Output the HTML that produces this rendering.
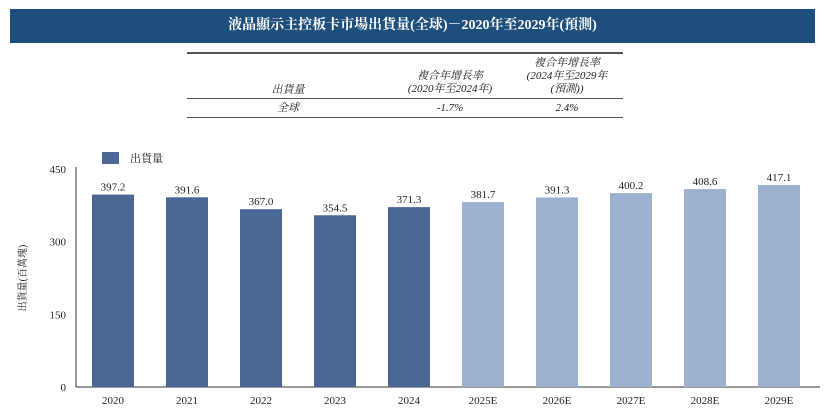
<!DOCTYPE html>
<html><head><meta charset="utf-8"><style>
body{margin:0;width:826px;height:414px;background:#fff;font-family:"Liberation Serif","Noto Serif CJK SC","Noto Sans CJK TC",serif;overflow:hidden;position:relative}
.hdr{position:absolute;left:10px;top:9px;width:805px;height:34px;background:#1e4f7c;color:#fff;font-size:14px;font-weight:bold;text-align:center;line-height:34px}
.t{position:absolute;font-size:11px;color:#222;text-align:center;font-style:italic;line-height:13px}
.ln{position:absolute;left:187px;width:436px;background:#555}
</style></head><body>
<div class="hdr">液晶顯示主控板卡市場出貨量(全球)－2020年至2029年(預測)</div>
<div class="ln" style="top:52px;height:1.5px"></div>
<div class="ln" style="top:98px;height:1px"></div>
<div class="ln" style="top:117px;height:1px"></div>
<div class="t" style="left:258px;top:84px;width:60px">出貨量</div>
<div class="t" style="left:400px;top:70px;width:100px">複合年增長率<br>(2020年至2024年)</div>
<div class="t" style="left:517px;top:57px;width:100px">複合年增長率<br>(2024年至2029年<br>(預測))</div>
<div class="t" style="left:258px;top:102px;width:60px">全球</div>
<div class="t" style="left:420px;top:102px;width:60px">-1.7%</div>
<div class="t" style="left:537px;top:102px;width:60px">2.4%</div>
<svg id="c" width="826" height="414" style="position:absolute;left:0;top:0"></svg>
<script>
const categories=["2020","2021","2022","2023","2024","2025E","2026E","2027E","2028E","2029E"];
const values=[397.2,391.6,367.0,354.5,371.3,381.7,391.3,400.2,408.6,417.1];
const labels=["397.2","391.6","367.0","354.5","371.3","381.7","391.3","400.2","408.6","417.1"];
const forecast=[false,false,false,false,false,true,true,true,true,true];
const yTicks=[0,150,300,450];
const NS="http://www.w3.org/2000/svg",svg=document.getElementById('c');
const y0=387,y1=169,x0=92,step=74,bw=42;
const y=v=>y0-(v/450)*(y0-y1);
const x=i=>x0+i*step;
function mk(t,a,txt){const e=document.createElementNS(NS,t);for(const k in a)e.setAttribute(k,a[k]);if(txt!==undefined)e.textContent=txt;svg.appendChild(e);return e;}
let e=mk('line',{x1:76,y1:y1-2,x2:76,y2:y0,stroke:'#333','stroke-width':1});


e=mk('line',{x1:76,y1:y0,x2:820,y2:y0,stroke:'#333','stroke-width':1});


yTicks.forEach(v=>{
 const t=mk('text',{x:66,y:y(v)+4,'text-anchor':'end','font-size':11,fill:'#222'},String(v));
 
 
});
categories.forEach((c,i)=>{
 const r=mk('rect',{x:x(i),y:y(values[i]),width:bw,height:y0-y(values[i]),fill:forecast[i]?'#9cb0cf':'#4a6795'});
 
 
 const l=mk('text',{x:x(i)+bw/2,y:y(values[i])-4,'text-anchor':'middle','font-size':11,fill:'#222'},labels[i]);
 
 
 const xl=mk('text',{x:x(i)+bw/2,y:404,'text-anchor':'middle','font-size':11,fill:'#222'},c);
 
 
});
e=mk('rect',{x:102,y:152,width:17,height:12,fill:'#4a6795'});


e=mk('text',{x:130,y:162,'font-size':11,fill:'#222'},'出貨量');


e=mk('text',{x:0,y:0,'font-size':10,fill:'#222','text-anchor':'middle',transform:'translate(26,278) rotate(-90)'},'出貨量(百萬塊)');


</script>
</body></html>
